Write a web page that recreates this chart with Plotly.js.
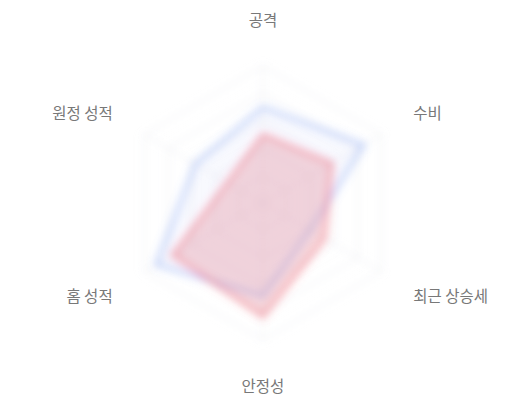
<!DOCTYPE html>
<html>
<head>
<meta charset="utf-8">
<script src="https://cdn.plot.ly/plotly-3.0.1.min.js"></script>
<style>
  html, body { margin: 0; padding: 0; background: #fff; }
  #chart { width: 520px; height: 400px; }
</style>
</head>
<body>
<div id="chart"></div>
<script>
const categories = ['공격', '수비', '최근 상승세', '안정성', '홈 성적', '원정 성적'];
const blueValues = [70, 85, 40, 68, 90, 57];
const redValues = [50, 58, 52, 83, 76, 30];

// close the polygon
const closed = arr => arr.concat(arr[0]);
const theta = closed(categories);

const data = [
    {
        type: 'scatterpolar',
        r: closed(blueValues),
        theta: theta,
        mode: 'lines',
        fill: 'toself',
        fillcolor: 'rgba(99, 140, 240, 0.05)',
        line: { color: 'rgba(99, 140, 240, 0.45)', width: 3.5 },
        hoverinfo: 'skip',
    },
    {
        type: 'scatterpolar',
        r: closed(redValues),
        theta: theta,
        mode: 'lines',
        fill: 'toself',
        fillcolor: 'rgba(225, 125, 140, 0.3)',
        line: { color: 'rgba(240, 90, 105, 0.55)', width: 3.5 },
        hoverinfo: 'skip',
    },
];

const layout = {
    width: 520,
    height: 400,
    margin: { l: 0, r: 0, t: 0, b: 0 },
    paper_bgcolor: '#ffffff',
    showlegend: false,
    polar: {
        domain: { x: [0.2423, 0.769], y: [0.15, 0.835] },
        gridshape: 'linear',
        bgcolor: 'rgba(0,0,0,0)',
        radialaxis: {
            range: [0, 100],
            dtick: 20,
            showticklabels: false,
            ticks: '',
            showline: false,
            gridcolor: '#e3e5ea',
            gridwidth: 1,
        },
        angularaxis: {
            rotation: 90,
            direction: 'clockwise',
            ticks: 'outside',
            ticklen: 33,
            tickcolor: 'rgba(0,0,0,0)',
            tickfont: {
                family: '"Noto Sans CJK KR", "Noto Sans", sans-serif',
                size: 15.5,
                color: '#787878',
            },
            showline: true,
            linecolor: '#e3e5ea',
            gridcolor: '#e3e5ea',
        },
    },
};

Plotly.newPlot('chart', data, layout, { displayModeBar: false, staticPlot: true }).then(gd => {
    // soft blur on the plot body, labels stay sharp
    const svg = gd.querySelector('svg.main-svg');
    const ns = 'http://www.w3.org/2000/svg';
    let defs = svg.querySelector('defs');
    if (!defs) { defs = document.createElementNS(ns, 'defs'); svg.prepend(defs); }
    const filter = document.createElementNS(ns, 'filter');
    filter.setAttribute('id', 'softblur');
    filter.setAttribute('x', '-30%');
    filter.setAttribute('y', '-30%');
    filter.setAttribute('width', '160%');
    filter.setAttribute('height', '160%');
    const blur = document.createElementNS(ns, 'feGaussianBlur');
    blur.setAttribute('stdDeviation', '4.5');
    filter.appendChild(blur);
    defs.appendChild(filter);

    ['.radial-grid', '.angular-grid', '.angular-line', '.frontplot'].forEach(sel => {
        gd.querySelectorAll('.polarlayer ' + sel).forEach(el => el.setAttribute('filter', 'url(#softblur)'));
    });
});
</script>
</body>
</html>
